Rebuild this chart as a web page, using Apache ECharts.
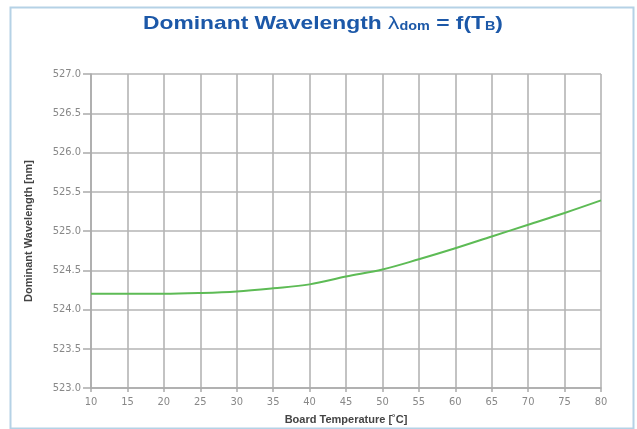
<!DOCTYPE html>
<html><head><meta charset="utf-8">
<script src="https://cdn.jsdelivr.net/npm/echarts@6/dist/echarts.min.js"></script>
<style>html,body{margin:0;padding:0;background:#fff}#c{width:637px;height:429px}</style>
</head><body><div id="c"></div>
<script>
var temperatures = [10, 15, 20, 25, 30, 35, 40, 45, 50, 55, 60, 65, 70, 75, 80];
var wavelengths = [524.20, 524.20, 524.20, 524.21, 524.23, 524.27, 524.32, 524.42, 524.51, 524.64, 524.78, 524.93, 525.08, 525.23, 525.39];
var yTicks = [523.0, 523.5, 524.0, 524.5, 525.0, 525.5, 526.0, 526.5, 527.0];
var xTicks = [10, 15, 20, 25, 30, 35, 40, 45, 50, 55, 60, 65, 70, 75, 80];

var chart = echarts.init(document.getElementById('c'), null, {renderer: 'canvas'});
var blue = '#1c58a8';
chart.setOption({
  animation: false,
  backgroundColor: '#fff',
  graphic: [{
    type: 'rect', left: 8, top: 5, shape: {width: 623, height: 421},
    style: {fill: 'none', stroke: '#b5d2e6', lineWidth: 2}, z: -1
  }, {
    type: 'text', x: 323, y: 21, scaleX: 1.2, originX: 0, z: 10,
    style: {
      text: '{m|Dominant Wavelength }{l|λ}{s|dom}{m| = f(T}{s|B}{m|)}',
      align: 'center', verticalAlign: 'middle',
      rich: {
        m: {fontFamily: 'Liberation Sans', fontWeight: 'bold', fontSize: 19, fill: blue, color: blue, verticalAlign: 'bottom', lineHeight: 24},
        l: {fontFamily: 'Liberation Sans', fontWeight: 'normal', fontSize: 19, fill: blue, color: blue, verticalAlign: 'bottom', lineHeight: 24},
        s: {fontFamily: 'Liberation Sans', fontWeight: 'bold', fontSize: 12, fill: blue, color: blue, verticalAlign: 'bottom', lineHeight: 18}
      }
    }
  }],
  grid: {left: 91, right: 36, top: 74, bottom: 41, outerBoundsMode: 'none', containLabel: false},
  xAxis: {
    type: 'value', min: 10, max: 80, interval: 5,
    name: 'Board Temperature [˚C]', nameLocation: 'middle', nameGap: 26,
    nameTextStyle: {fontFamily: 'Liberation Sans', fontWeight: 'bold', fontSize: 11, color: '#444'},
    axisLine: {show: true, lineStyle: {color: '#aaa', width: 1.5}},
    axisTick: {show: true, length: 4, lineStyle: {color: '#aaa', width: 1.5}},
    axisLabel: {color: '#888', fontSize: 11, fontFamily: 'DejaVu Sans Condensed', margin: 9,
      formatter: function (v) { return xTicks.indexOf(v) >= 0 ? String(v) : ''; }},
    splitLine: {show: true, lineStyle: {color: '#b4b4b4', width: 1.6}}
  },
  yAxis: {
    type: 'value', min: 523.0, max: 527.0, interval: 0.5,
    name: 'Dominant Wavelength [nm]', nameLocation: 'middle', nameGap: 57, nameMoveOverlap: false,
    nameTextStyle: {fontFamily: 'Liberation Sans', fontWeight: 'bold', fontSize: 11, color: '#444'},
    axisLine: {show: true, lineStyle: {color: '#aaa', width: 1.5}},
    axisTick: {show: true, length: 8, lineStyle: {color: '#aaa', width: 1.5}},
    axisLabel: {color: '#888', fontSize: 11, fontFamily: 'DejaVu Sans Condensed', margin: 10,
      formatter: function (v) { var s = v.toFixed(1); return yTicks.map(function(t){return t.toFixed(1);}).indexOf(s) >= 0 ? s : ''; }},
    splitLine: {show: true, lineStyle: {color: '#b4b4b4', width: 1.6}}
  },
  series: [{
    type: 'line', smooth: 0.35, showSymbol: false,
    data: temperatures.map(function (t, i) { return [t, wavelengths[i]]; }),
    lineStyle: {color: '#5dbb55', width: 2}
  }]
});
</script></body></html>
